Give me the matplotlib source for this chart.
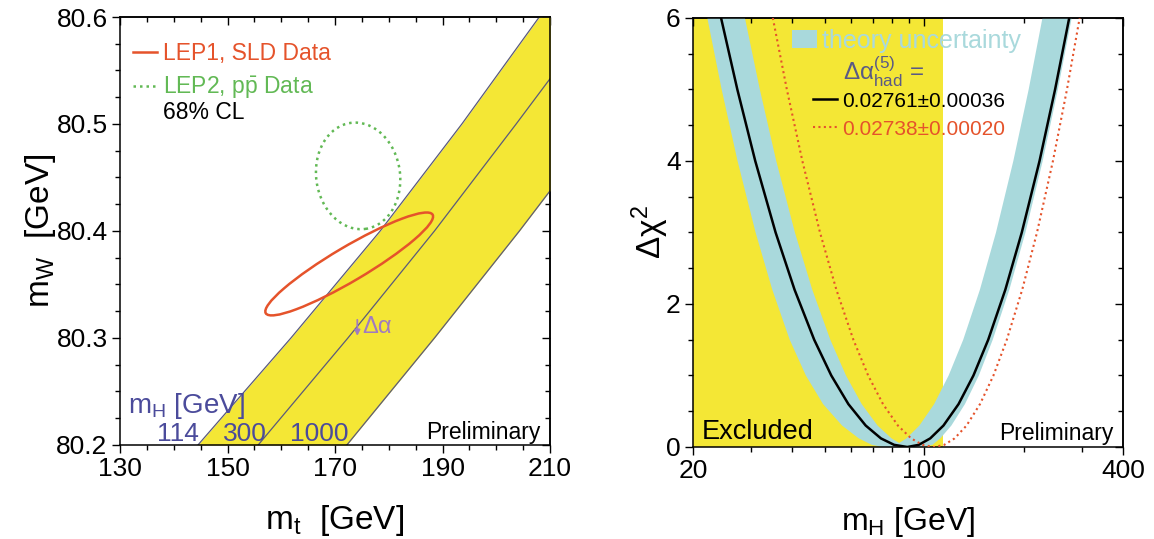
import matplotlib
matplotlib.use("Agg")
import matplotlib.pyplot as plt
from matplotlib.patches import Ellipse, Patch
from matplotlib.lines import Line2D
from matplotlib.transforms import Affine2D
from matplotlib.ticker import MultipleLocator, NullFormatter, FormatStrFormatter, FixedLocator

plt.rcParams['font.family'] = ['Liberation Sans', 'DejaVu Sans']
plt.rcParams['mathtext.fontset'] = 'custom'
plt.rcParams['mathtext.rm'] = 'Liberation Sans'
plt.rcParams['mathtext.it'] = 'Liberation Sans:italic'
plt.rcParams['mathtext.bf'] = 'Liberation Sans:bold'
plt.rcParams['mathtext.sf'] = 'Liberation Sans'
plt.rcParams['axes.linewidth'] = 1.1

# ---------------- left panel data (m_t vs m_W) ----------------
mw_levels = [80.2, 80.3, 80.4, 80.5, 80.6]
mt_mh114 = [144.5, 161.8, 178.4, 193.6, 208.0]
mt_mh300 = [155.7, 172.4, 188.5, 203.7, 218.6]
mt_mh1000 = [172.2, 188.5, 204.3, 219.5, 234.5]
mh_band_labels = ['114', '300', '1000']
mh_label_mt = [136.9, 149.2, 161.6]
mt_major = [130, 150, 170, 190, 210]

MW_SCALE = 200.0  # mW units per GeV-like unit for the contour ellipses
lep1_center = (172.64, 80.3692)
lep1_width, lep1_height, lep1_angle = 36.1, 6.4, 30.7
lep2_center = (174.3, 80.4515)
lep2_width, lep2_height, lep2_angle = 15.6, 20.0, 8.0

dalpha_arrow_mt = 174.15
dalpha_arrow_mw = (80.3170, 80.3020)

# ---------------- right panel data (Delta chi^2 vs m_H) ----------------
chi2_levels = [6, 5, 4, 3, 2.2, 1.5, 1, 0.6, 0.3, 0.12, 0.03, 0,
               0.03, 0.12, 0.3, 0.6, 1, 1.5, 2.2, 3, 4, 5, 6]
black_mh = [24.32, 27.24, 30.86, 35.56, 40.58, 46.53, 52.41, 59.04, 66.61, 74.09, 81.20, 89.0,
            96.4, 104.4, 114.5, 127.2, 141.1, 156.4, 176.2, 197.6, 223.6, 249.2, 275.0]
red_mh = [34.88, 38.46, 42.85, 48.45, 54.30, 61.13, 67.76, 75.14, 83.37, 91.43, 98.97, 107.2,
          115.1, 123.7, 134.5, 147.7, 162.2, 178.0, 198.2, 219.7, 245.5, 270.7, 295.7]

band_low_mh = [22.10, 24.42, 27.28, 30.93, 34.75, 39.23, 43.9, 49.5, 56.5, 63.5, 69.5, 75.0,
               100.0, 106.0, 112.0, 121.0, 133.0, 146.5, 161.4, 181.2, 202.7, 228.6, 254.1, 279.8]
band_low_chi2 = [6, 5, 4, 3, 2.2, 1.5, 1, 0.6, 0.3, 0.12, 0.03, 0,
                 0, 0.03, 0.12, 0.3, 0.6, 1, 1.5, 2.2, 3, 4, 5, 6]
band_up_mh = [28.72, 31.86, 35.72, 40.68, 45.91, 52.06, 58.06, 64.79, 72.34, 79.77, 84.1,
              88.45, 96.83, 107.3, 118.7, 131.4, 147.6, 165.1, 186.3, 207.3, 228.2]
band_up_chi2 = [6, 5, 4, 3, 2.2, 1.5, 1, 0.6, 0.3, 0.12, 0.056,
                0.12, 0.3, 0.6, 1, 1.5, 2.2, 3, 4, 5, 6]
excluded_limit = 114.4

mh_major = [20, 100, 400]
mh_minor = [30, 40, 50, 60, 70, 80, 90, 200, 300]

# ---------------- colours ----------------
YELLOW = '#f4e735'
BLUE = '#a9d9dc'
RED = '#e5532b'
GREEN = '#62b955'
LINEC = '#5a5a7c'
PURPLE = '#a07bc0'
MHBLUE = '#4b4b9b'
DAGRAY = '#5a5a85'

fig = plt.figure(figsize=(11.54, 5.39), dpi=100)
ax1 = fig.add_axes([0.10399, 0.17440, 0.37262, 0.79406])
ax2 = fig.add_axes([0.60052, 0.17069, 0.37262, 0.79592])

# ================= left panel =================
ax1.set_xlim(130, 210)
ax1.set_ylim(80.2, 80.6)
ax1.fill_betweenx(mw_levels, mt_mh114, mt_mh1000, color=YELLOW, lw=0, zorder=1)
for mts in (mt_mh114, mt_mh300, mt_mh1000):
    ax1.plot(mts, mw_levels, color=LINEC, lw=0.9, zorder=2)

scale_tr = Affine2D().scale(1.0, 1.0 / MW_SCALE) + ax1.transData
e1 = Ellipse((lep1_center[0], lep1_center[1] * MW_SCALE), lep1_width, lep1_height,
             angle=lep1_angle, transform=scale_tr, fill=False, edgecolor=RED, lw=1.8, zorder=3)
e2 = Ellipse((lep2_center[0], lep2_center[1] * MW_SCALE), lep2_width, lep2_height,
             angle=lep2_angle, transform=scale_tr, fill=False, edgecolor=GREEN, lw=1.8,
             linestyle=(0, (1, 1.6)), zorder=3)
ax1.add_patch(e1)
ax1.add_patch(e2)

ax1.annotate('', xy=(dalpha_arrow_mt, dalpha_arrow_mw[1]), xytext=(dalpha_arrow_mt, dalpha_arrow_mw[0]),
             arrowprops=dict(arrowstyle='-|>', color=PURPLE, lw=1.3, mutation_scale=8,
                             shrinkA=0, shrinkB=0), zorder=4)
ax1.text(dalpha_arrow_mt + 1.0, 80.3105, 'Δα', color=PURPLE, fontsize=17, va='center', ha='left')

ax1.text(131.5, 80.2295, r'm$_\mathrm{H}$ [GeV]', color=MHBLUE, fontsize=20, va='baseline', ha='left')
for lab, x in zip(mh_band_labels, mh_label_mt):
    ax1.text(x, 80.2035, lab, color=MHBLUE, fontsize=19, va='baseline', ha='left')
ax1.text(0.979, 0.013, 'Preliminary', transform=ax1.transAxes, fontsize=16.5,
         ha='right', va='baseline')

leg1 = ax1.legend([Line2D([], [], color=RED, lw=1.8),
                   Line2D([], [], color=GREEN, lw=1.8, ls=(0, (1, 1.6)))],
                  ['LEP1, SLD Data', r'LEP2, p$\bar{\mathrm{p}}$ Data'],
                  loc='upper left', bbox_to_anchor=(0.030, 0.942), frameon=False,
                  fontsize=16.5, handlelength=1.05, handletextpad=0.27, labelspacing=0.42,
                  borderpad=0, borderaxespad=0, labelcolor='linecolor')
ax1.text(0.1007, 0.778, '68% CL', transform=ax1.transAxes, fontsize=16.5, va='center', ha='left')

ax1.xaxis.set_major_locator(FixedLocator(mt_major))
ax1.xaxis.set_minor_locator(MultipleLocator(5))
ax1.yaxis.set_major_locator(MultipleLocator(0.1))
ax1.yaxis.set_minor_locator(MultipleLocator(0.025))
ax1.yaxis.set_major_formatter(FormatStrFormatter('%.1f'))
ax1.tick_params(which='both', direction='out', labelsize=19, width=1.0, pad=3)
ax1.tick_params(which='major', length=6)
ax1.tick_params(which='minor', length=3.5)

s1x = ax1.secondary_xaxis('top')
s1x.xaxis.set_major_locator(FixedLocator(mt_major))
s1x.xaxis.set_minor_locator(MultipleLocator(5))
s1x.xaxis.set_major_formatter(NullFormatter())
s1x.tick_params(which='both', direction='in', width=1.0)
s1x.tick_params(which='major', length=6)
s1x.tick_params(which='minor', length=3.5)
s1y = ax1.secondary_yaxis('right')
s1y.yaxis.set_major_locator(MultipleLocator(0.1))
s1y.yaxis.set_minor_locator(MultipleLocator(0.025))
s1y.yaxis.set_major_formatter(NullFormatter())
s1y.tick_params(which='both', direction='in', width=1.0)
s1y.tick_params(which='major', length=6)
s1y.tick_params(which='minor', length=3.5)

ax1.set_xlabel(r'm$_\mathrm{t}$  [GeV]', fontsize=24)
ax1.set_ylabel(r'm$_\mathrm{W}$  [GeV]', fontsize=24)
ax1.xaxis.set_label_coords(0.5, -0.135)
ax1.yaxis.set_label_coords(-0.145, 0.5)

# ================= right panel =================
ax2.set_xscale('log')
ax2.set_xlim(20, 400)
ax2.set_ylim(0, 6)
ax2.axvspan(20, excluded_limit, color=YELLOW, lw=0, zorder=0)
ax2.fill(band_low_mh + band_up_mh[::-1], band_low_chi2 + band_up_chi2[::-1],
         color=BLUE, lw=0, zorder=1)
ax2.plot(black_mh, chi2_levels, color='black', lw=1.8, zorder=3)
ax2.plot(red_mh, chi2_levels, color=RED, lw=1.5, ls=(0, (1, 1.6)), zorder=3)

leg2 = ax2.legend([Patch(facecolor=BLUE, edgecolor='none')], ['theory uncertainty'],
                  loc='upper left', bbox_to_anchor=(0.2295, 0.975), frameon=False,
                  fontsize=18, handlelength=1.0, handleheight=0.7, handletextpad=0.2,
                  borderpad=0, borderaxespad=0, labelcolor=BLUE)
ax2.add_artist(leg2)
ax2.text(0.349, 0.874, r'$\mathrm{\Delta\alpha}^{(5)}_{\mathrm{had}}$ =', transform=ax2.transAxes,
         fontsize=17.5, color=DAGRAY, va='center', ha='left')
leg3 = ax2.legend([Line2D([], [], color='black', lw=1.8),
                   Line2D([], [], color=RED, lw=1.5, ls=(0, (1, 1.6)))],
                  ['0.02761±0.00036', '0.02738±0.00020'],
                  loc='upper left', bbox_to_anchor=(0.279, 0.828), frameon=False,
                  fontsize=15, handlelength=1.15, handletextpad=0.25, labelspacing=0.42,
                  borderpad=0, borderaxespad=0, labelcolor='linecolor')

ax2.text(0.0202, 0.018, 'Excluded', transform=ax2.transAxes, fontsize=19.5, ha='left', va='baseline')
ax2.text(0.977, 0.016, 'Preliminary', transform=ax2.transAxes, fontsize=16.5, ha='right', va='baseline')

ax2.xaxis.set_major_locator(FixedLocator(mh_major))
ax2.xaxis.set_minor_locator(FixedLocator(mh_minor))
ax2.xaxis.set_major_formatter(FormatStrFormatter('%d'))
ax2.xaxis.set_minor_formatter(NullFormatter())
ax2.yaxis.set_major_locator(MultipleLocator(2))
ax2.yaxis.set_minor_locator(MultipleLocator(0.5))
ax2.tick_params(which='both', direction='out', labelsize=19, width=1.0, pad=3)
ax2.tick_params(which='major', length=6)
ax2.tick_params(which='minor', length=3.5)

s2x = ax2.secondary_xaxis('top')
s2x.xaxis.set_major_locator(FixedLocator(mh_major))
s2x.xaxis.set_minor_locator(FixedLocator(mh_minor))
s2x.xaxis.set_major_formatter(NullFormatter())
s2x.xaxis.set_minor_formatter(NullFormatter())
s2x.tick_params(which='both', direction='in', width=1.0)
s2x.tick_params(which='major', length=6)
s2x.tick_params(which='minor', length=3.5)
s2y = ax2.secondary_yaxis('right')
s2y.yaxis.set_major_locator(MultipleLocator(2))
s2y.yaxis.set_minor_locator(MultipleLocator(0.5))
s2y.yaxis.set_major_formatter(NullFormatter())
s2y.tick_params(which='both', direction='in', width=1.0)
s2y.tick_params(which='major', length=6)
s2y.tick_params(which='minor', length=3.5)

ax2.set_xlabel(r'm$_\mathrm{H}$ [GeV]', fontsize=23)
ax2.set_ylabel(r'$\mathrm{\Delta\chi}^{2}$', fontsize=24)
ax2.xaxis.set_label_coords(0.5, -0.135)
ax2.yaxis.set_label_coords(-0.05, 0.5)

fig.savefig('out.png', dpi=100)
